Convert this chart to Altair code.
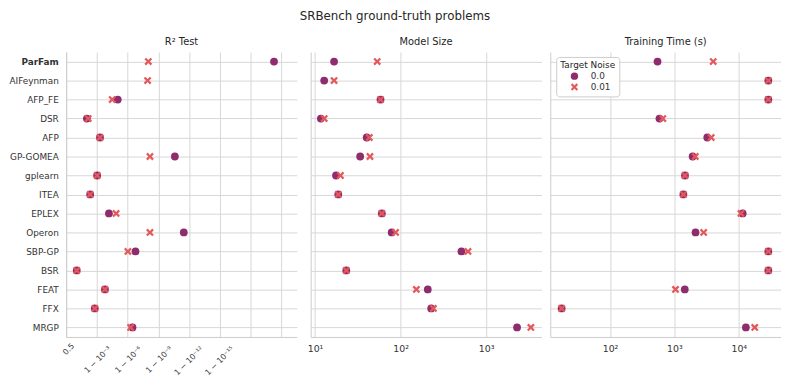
import math
import altair as alt
import pandas as pd

methods = ["ParFam", "AIFeynman", "AFP_FE", "DSR", "AFP", "GP-GOMEA", "gplearn", "ITEA",
           "EPLEX", "Operon", "SBP-GP", "BSR", "FEAT", "FFX", "MRGP"]

# R^2 test accuracy expressed as axis position: tick 3k == 1 - 10^-(3k), 0 == 0.5
r2_pos_noise0 = [20.27, None, 5.03, 2.02, 3.30, 10.6, 3.02, 2.34, 4.17, 11.47, 6.76, 1.03, 3.78, 2.79, 6.47]
r2_pos_noise001 = [8.01, 7.94, 4.49, 2.15, 3.30, 8.17, 3.02, 2.34, 4.87, 8.17, 6.02, 1.03, 3.78, 2.79, 6.28]

size_noise0 = [16.7, 12.8, 58.3, 11.7, 40.2, 33.7, 17.6, 18.7, 60.4, 78.7, 515, 23.2, 208, 228, 2300]
size_noise001 = [53.3, 16.7, 58.3, 12.8, 43.1, 43.9, 19.8, 18.7, 60.4, 87.5, 614, 23.2, 153, 242, 3335]

time_noise0 = [547, 28800, 28800, 586, 3240, 1920, 1460, 1380, 11500, 2130, 28800, 28800, 1450, 17.7, 12900]
time_noise001 = [4010, 28800, 28800, 661, 3730, 2110, 1460, 1380, 10800, 2850, 28800, 28800, 1040, 17.7, 17700]

noise_levels = ["0.0", "0.01"]
r2_tick_values = [0, 3, 6, 9, 12, 15, 18, 21]
r2_tick_labels = ["0.5", "1 − 10⁻³", "1 − 10⁻⁶", "1 − 10⁻⁹", "1 − 10⁻¹²", "1 − 10⁻¹⁵", "", ""]

rows = []
for i, m in enumerate(methods):
    rows.append(dict(method=m, noise="0.0", r2=r2_pos_noise0[i], size=size_noise0[i], time=time_noise0[i]))
for i, m in enumerate(methods):
    rows.append(dict(method=m, noise="0.01", r2=r2_pos_noise001[i], size=size_noise001[i], time=time_noise001[i]))
df = pd.DataFrame(rows)

# filled "X" marker as a custom path (rotated plus)
a = 0.26
plus = [(a, 1), (a, a), (1, a), (1, -a), (a, -a), (a, -1), (-a, -1), (-a, -a), (-1, -a), (-1, a), (-a, a), (-a, 1)]
s = math.sqrt(2) / (1 + a)
pts = [((x - y) / math.sqrt(2) * s, (x + y) / math.sqrt(2) * s) for x, y in plus]
xpath = "M" + "L".join(f"{x:.3f},{y:.3f}" for x, y in pts) + "Z"

C0, C1 = "#8e2c6e", "#e3585a"
FONT = "DejaVu Sans"
W, H = 234, 289

color_scale = alt.Scale(domain=noise_levels, range=[C0, C1])
shape_scale = alt.Scale(domain=noise_levels, range=["circle", xpath])
ysc = alt.Scale(type="point", domain=methods, padding=0.5)

yaxis_main = alt.Axis(title=None, ticks=False, grid=True, labelPadding=8, labelFontSize=9,
                      labelFontWeight={"condition": {"test": "datum.value == 'ParFam'", "value": "bold"},
                                       "value": "normal"})
yaxis_hidden = alt.Axis(title=None, ticks=False, labels=False, grid=True)

legend = alt.Legend(title="Target Noise", orient="none", legendX=497, legendY=5,
                    strokeColor="#cccccc", fillColor="white", padding=4, cornerRadius=3,
                    titleFontSize=9, titleFontWeight="normal", labelFontSize=9, titlePadding=2,
                    symbolSize=55, symbolStrokeWidth=0, rowPadding=1, titleAnchor="middle",
                    symbolOffset=5, labelOffset=12)


def panel(field, title, xscale, xaxis, yaxis):
    base = alt.Chart(df).mark_point(filled=True, opacity=1, strokeWidth=0, size=62).encode(
        x=alt.X(f"{field}:Q", scale=xscale, axis=xaxis),
        y=alt.Y("method:N", scale=ysc, sort=methods, axis=yaxis),
        color=alt.Color("noise:N", scale=color_scale, legend=legend),
        shape=alt.Shape("noise:N", scale=shape_scale, legend=legend),
        order=alt.Order("noise:N"),
    )
    return base.properties(width=W, height=H,
                           title=alt.TitleParams(title, fontSize=10, fontWeight="normal", offset=5))


r2_label_expr = " : ".join(
    f"datum.value == {v} ? '{l}'" for v, l in zip(r2_tick_values, r2_tick_labels)) + " : ''"

p1 = panel("r2", "R² Test",
           alt.Scale(domain=[0, 22.5], nice=False, zero=False),
           alt.Axis(title=None, values=r2_tick_values, labelExpr=r2_label_expr, labelAngle=-45,
                    labelAlign="right", labelBaseline="top", labelFontSize=8, ticks=False,
                    labelOverlap=False, labelBound=False,
                    labelOffset={"condition": {"test": "datum.value == 0", "value": 4}, "value": 10},
                    labelPadding={"condition": {"test": "datum.value == 0", "value": 5}, "value": 8}),
           yaxis_main)

p2 = panel("size", "Model Size",
           alt.Scale(type="log", domain=[8.9, 4430], nice=False),
           alt.Axis(title=None, values=[10, 100, 1000], ticks=False, labelFontSize=9.5, labelPadding=7,
                    labelOverlap=False,
                    labelExpr="datum.value == 10 ? '10¹' : datum.value == 100 ? '10²' : '10³'"),
           yaxis_hidden)

p3 = panel("time", "Training Time (s)",
           alt.Scale(type="log", domain=[11.8, 45300], nice=False),
           alt.Axis(title=None, values=[100, 1000, 10000], ticks=False, labelFontSize=9.5, labelPadding=7,
                    labelOverlap=False,
                    labelExpr="datum.value == 100 ? '10²' : datum.value == 1000 ? '10³' : '10⁴'"),
           yaxis_hidden)

chart = alt.hconcat(p1, p2, p3, spacing=9).properties(
    title=alt.TitleParams("SRBench ground-truth problems", fontSize=12, fontWeight="normal",
                          anchor="middle", offset=14),
    padding={"left": 0, "top": 0, "right": 0, "bottom": 0},
).configure(font=FONT).configure_view(stroke=None).configure_axis(
    gridColor="#d6d6d6", gridWidth=1, domainColor="#cccccc", domainWidth=1,
    labelColor="#333333", labelFont=FONT,
).configure_title(color="#262626", font=FONT).configure_legend(
    labelColor="#333333", titleColor="#262626", labelFont=FONT, titleFont=FONT)

chart.save("out.html", embed_options={"renderer": "svg", "actions": False})
